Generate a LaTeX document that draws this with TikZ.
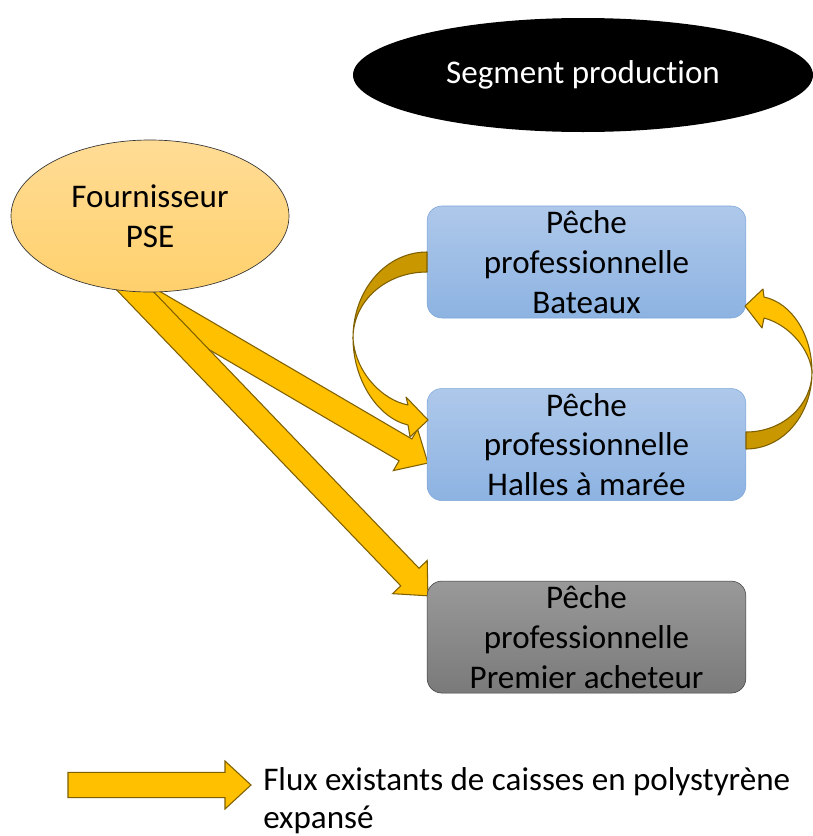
\documentclass[tikz,border=0pt]{standalone}
\usepackage{fontspec}
\setmainfont{Carlito}[Ligatures=NoCommon]
\usepackage{tikz}
\usetikzlibrary{calc,positioning,shapes.geometric,backgrounds}
\definecolor{fluxfill}{HTML}{FFC000}
\definecolor{fluxdark}{HTML}{C99700}
\definecolor{fluxline}{HTML}{7F6000}
\definecolor{bleuhaut}{HTML}{AEC8EA}
\definecolor{bleubas}{HTML}{8DB3E2}
\definecolor{bleubord}{HTML}{7BA5D9}
\definecolor{grishaut}{HTML}{999999}
\definecolor{grisbas}{HTML}{7A7A7A}
\definecolor{orangehaut}{HTML}{FFDC96}
\definecolor{orangebas}{HTML}{FFD06C}

\begin{document}
\begin{tikzpicture}[x=0.75pt,y=-0.75pt,
 every node/.style={font=\fontsize{24.8}{29.8}\selectfont},
 box/.style={rectangle,rounded corners=11pt,minimum width=239pt,minimum height=84pt,align=center,inner sep=0pt},
 bleu/.style={box,draw=bleubord,top color=bleuhaut,bottom color=bleubas},
 gris/.style={box,draw=black!75,top color=grishaut,bottom color=grisbas},
 crois/.style={draw=fluxline,line width=0.8pt,line join=round},
 flux/.style={draw=fluxline,fill=fluxfill,line width=0.8pt,to path={
  ($(\tikztotarget)!19.5pt!(\tikztostart)$) coordinate (fb)
  ($(\tikztostart)!9.5pt!90:(\tikztotarget)$) -- ($(fb)!9.5pt!-90:(\tikztostart)$)
  -- ($(fb)!18pt!-90:(\tikztostart)$) -- (\tikztotarget)
  -- ($(fb)!18pt!90:(\tikztostart)$) -- ($(fb)!9.5pt!90:(\tikztostart)$)
  -- ($(\tikztostart)!9.5pt!-90:(\tikztotarget)$) -- cycle}}]
\useasboundingbox (0,0) rectangle (813,836);

% segment et fournisseur
\node[ellipse,fill=black,text=white,minimum width=345pt,minimum height=85.5pt,inner sep=0pt] (seg) at (583,75) {Segment production};
\node[ellipse,draw=black!80,line width=0.5pt,top color=orangehaut,bottom color=orangebas,
 minimum width=208.5pt,minimum height=114pt,inner sep=0pt,align=center] (four) at (150,216) {Fournisseur\\PSE};

% maillons de la filiere
\node[bleu] (bat) at (586.5,262) {Pêche\\professionnelle\\Bateaux};
\node[bleu,below=52.5pt of bat] (hal) {Pêche\\professionnelle\\Halles à marée};
\node[gris,below=60pt of hal] (ach) {Pêche\\professionnelle\\Premier acheteur};

% flux droits (sous le fournisseur)
\coordinate (fa) at ($(four.south)+(0,8)$);
\coordinate (fha) at ($(hal.west)+(1,18.5)$);
\coordinate (fb0) at ($(four.south)+(-25,-12)$);
\coordinate (fac) at ($(ach.north west)+(1,15)$);
\begin{scope}[on background layer]
\path[flux] (fa) to (fha);
\path[flux] (fb0) to (fac);
\end{scope}

% flux courbes
\fill[fluxdark,crois] (427,252) .. controls (386,252) and (353,290) .. (353,338)
 .. controls (353,301) and (386,272) .. (427,272) -- cycle;
\fill[fluxfill,crois] (353,338) .. controls (353,380) and (378,418) .. (408,425)
 -- (410,437) -- (428,420) -- (406,397) -- (408,405)
 .. controls (382,400) and (355,372) .. (353,338) -- cycle;
\fill[fluxdark,crois] (746,449) .. controls (783,449) and (812,415) .. (812,372)
 .. controls (812,405) and (783,432) .. (746,432) -- cycle;
\fill[fluxfill,crois] (812,372) .. controls (812,335) and (792,303) .. (764,297)
 -- (763,289) -- (745,306) -- (762,328) -- (764,318)
 .. controls (790,325) and (810,350) .. (812,372) -- cycle;

% legende
\coordinate (legs) at (68,785);
\coordinate (lege) at (251,785);
\path[flux] (legs) to (lege);
\node[anchor=west,align=left,inner sep=0pt,font=\fontsize{24.8}{28.5}\selectfont] (leg) at (263,801)
 {Flux existants de caisses en polystyrène\\expansé};
\end{tikzpicture}
\end{document}
